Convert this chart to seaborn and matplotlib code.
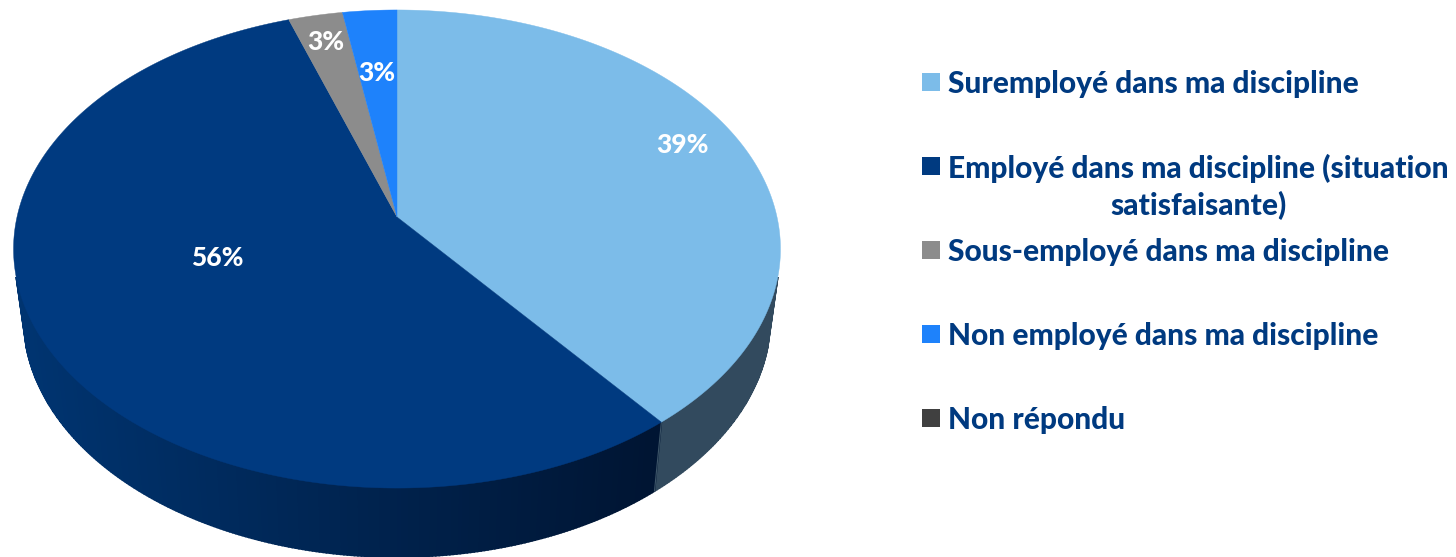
import numpy as np
import matplotlib
matplotlib.use("Agg")
import matplotlib.pyplot as plt
from matplotlib.colors import to_rgb
import seaborn as sns

categories = ["Suremployé dans ma discipline",
              "Employé dans ma discipline (situation\nsatisfaisante)",
              "Sous-employé dans ma discipline",
              "Non employé dans ma discipline",
              "Non répondu"]
values = [39.3, 55.5, 2.6, 2.6, 0.0]
colors = ["#7cbce9", "#003a80", "#8c8c8c", "#1e82fb", "#404040"]
side_left = ["#324a5e", "#003470", "#606060", "#145ab0", "#303030"]
side_right = ["#324a5e", "#001533", "#505050", "#104a90", "#303030"]
pct_xy = [(682, 145), (217, 258), (326, 42), (377, 73)]

sns.set_theme(style="white")
plt.rcParams["font.family"] = ["Lato", "DejaVu Sans"]

fig = plt.figure(figsize=(14.56, 5.57), dpi=100, facecolor="white")
ax = fig.add_axes([0, 0, 1, 1])
ax.set_xlim(0, 1456)
ax.set_ylim(557, 0)
ax.axis("off")

CX, APEX_Y, R = 397.0, 217.0, 380.0
A, C = 205.7, -0.1339
DEPTH, SHRINK = 69.0, 0.974


def top(theta):
    u, v = np.sin(theta), -np.cos(theta)
    d = 1 + C * v
    return CX + R * u / d, (A * v + APEX_Y) / d


def bottom(theta):
    x, y = top(theta)
    return CX + SHRINK * (x - CX), y + DEPTH


edges = np.cumsum([0] + values) / sum(values) * 2 * np.pi
front_lo, front_hi = np.pi / 2 + 0.25, 3 * np.pi / 2 - 0.25

# side wall first, so that the top face covers its hidden part
for i, val in enumerate(values):
    lo, hi = max(edges[i], front_lo), min(edges[i + 1], front_hi)
    if val <= 0 or hi <= lo:
        continue
    ths = np.linspace(lo, hi, int((hi - lo) * 120) + 2)
    cl, cr = np.array(to_rgb(side_left[i])), np.array(to_rgb(side_right[i]))
    for t0, t1 in zip(ths[:-1], ths[1:]):
        x0, y0 = top(t0); x1, y1 = top(t1)
        x2, y2 = bottom(t1); x3, y3 = bottom(t0)
        f = np.clip(((x0 + x1) / 2 - 25) / 625, 0, 1)
        col = cl + (cr - cl) * f
        ax.fill([x0, x1, x2, x3], [y0, y1, y2, y3], color=col, lw=1.2, zorder=1)

# thin seam between the two visible side walls
x0, y0 = top(edges[1]); x1, y1 = bottom(edges[1])
ax.plot([x0, x1], [y0, y1], color="#3d5568", lw=0.8, zorder=2)

# top face
for i, val in enumerate(values):
    if val <= 0:
        continue
    ths = np.linspace(edges[i], edges[i + 1], max(int(val * 8), 2) + 1)
    xs, ys = top(ths)
    ax.fill(np.r_[CX, xs], np.r_[APEX_Y, ys], color=colors[i], lw=0.3, zorder=3)

for val, (x, y) in zip(values, pct_xy):
    ax.text(x, y, f"{val:.0f}%", color="white", fontsize=19, fontweight="black",
            ha="center", va="center", zorder=5)

# legend
legend_y = [84, 168, 252, 336, 420]
marker_y = [82, 166, 250, 334, 418]
for name, col, y, my in zip(categories, colors, legend_y, marker_y):
    ax.fill([922, 940, 940, 922], [my - 9, my - 9, my + 9, my + 9], color=col, lw=0, zorder=4)
    lines = name.split("\n")
    ax.text(948, y, lines[0], color="#003a80", fontsize=21.5, fontweight="black",
            ha="left", va="center")
    if len(lines) > 1:
        ax.text(1198, y + 38, lines[1], color="#003a80", fontsize=21.5,
                fontweight="black", ha="center", va="center")

fig.savefig("out.png", dpi=100, facecolor="white")
